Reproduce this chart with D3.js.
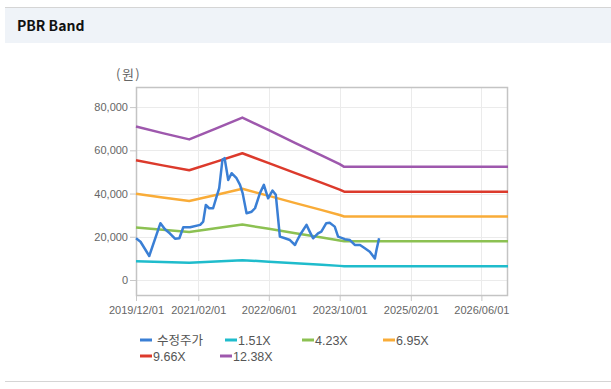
<!DOCTYPE html>
<html>
<head>
<meta charset="utf-8">
<script src="https://cdn.jsdelivr.net/npm/d3@7"></script>
<style>
  body { margin: 0; background: #fff; font-family: "Liberation Sans", Arial, sans-serif; }
  svg { display: block; }
</style>
</head>
<body>
<script>
// Adjusted share price (수정주가)
var priceDates = ["2019-12-01","2020-01-01","2020-03-01","2020-05-17","2020-06-17","2020-07-20","2020-08-25","2020-09-24","2020-10-21","2020-12-07",
  "2021-02-14","2021-03-07","2021-03-25","2021-04-17","2021-05-14","2021-06-07","2021-06-25","2021-07-17","2021-08-01","2021-08-26",
  "2021-09-18","2021-10-22","2021-11-15","2021-12-03","2021-12-30","2022-02-03","2022-02-26","2022-04-01","2022-04-28","2022-05-27",
  "2022-06-26","2022-07-19","2022-08-16","2022-09-20","2022-10-24","2022-11-28","2022-12-08","2023-01-01","2023-02-15","2023-03-09",
  "2023-04-01","2023-05-05","2023-05-28","2023-07-01","2023-07-24","2023-08-28","2023-09-20","2023-11-06","2023-12-10","2024-01-13",
  "2024-02-18","2024-03-22","2024-04-25","2024-05-30","2024-06-10","2024-06-28"];
var priceValues = [19300,17700,11100,26300,23500,21600,19100,19300,24400,24400,
  25500,27000,34700,33200,33200,38600,42500,55600,56400,46300,
  49400,47100,44000,40200,30900,31600,33200,40200,44000,37800,
  41400,39400,20100,19300,18500,16200,17700,20800,25500,22400,
  19300,21600,22400,26300,26500,24700,20100,18900,18500,16200,
  16200,14700,13100,10000,13900,19300];

// Book value per share used for the PBR bands
var bpsDates = ["2019-12-01","2020-06-01","2020-12-01","2021-06-01","2021-12-01","2022-06-01","2022-12-01","2023-06-01","2023-10-01","2023-11-01","2026-12-01"];
var bpsValues = [5740,5490,5255,5660,6070,5600,5120,4650,4330,4230,4230];

var bandNames = ["1.51X","4.23X","6.95X","9.66X","12.38X"];
var bandMultiples = [1.51,4.23,6.95,9.66,12.38];

var xTickDates = ["2019/12/01","2021/02/01","2022/06/01","2023/10/01","2025/02/01","2026/06/01"];
var yTicks = [0,20000,40000,60000,80000];

var legendNames = ["수정주가","1.51X","4.23X","6.95X","9.66X","12.38X"];
var colors = ["#3a7fd5","#1fbccc","#8cc152","#f9ac38","#dc3a2c","#9e58ad"];

var svgWidth = 611, svgHeight = 389;
var plot = { left: 136, right: 508, top: 87, bottom: 296 };

var svg = d3.select("body").append("svg")
  .attr("width", svgWidth)
  .attr("height", svgHeight);

// header
svg.append("rect").attr("x", 5).attr("y", 7).attr("width", 606).attr("height", 36).attr("fill", "#eff3f8");
svg.append("line").attr("x1", 5).attr("x2", 611).attr("y1", 7.5).attr("y2", 7.5).attr("stroke", "#d5d5d5");
svg.append("text")
  .attr("x", 17).attr("y", 31)
  .attr("font-family", "'Noto Sans CJK KR', 'Noto Sans', sans-serif")
  .attr("font-weight", "bold")
  .attr("font-size", 14)
  .attr("fill", "#111")
  .text("PBR Band");
svg.append("line").attr("x1", 5).attr("x2", 611).attr("y1", 381.5).attr("y2", 381.5).attr("stroke", "#d5d5d5");

var parseDash = d3.timeParse("%Y-%m-%d");
var parseSlash = d3.timeParse("%Y/%m/%d");

var x = d3.scaleTime()
  .domain([parseDash("2019-12-01"), parseDash("2026-12-01")])
  .range([plot.left, plot.right]);

var y = d3.scaleLinear()
  .domain([-7400, 89300])
  .range([plot.bottom, plot.top]);

// grid
var grid = svg.append("g");
grid.selectAll(".hg").data(yTicks).enter().append("line")
  .attr("x1", plot.left).attr("x2", plot.right)
  .attr("y1", d => Math.round(y(d)) + 0.5).attr("y2", d => Math.round(y(d)) + 0.5)
  .attr("stroke", "#ebebeb");
grid.selectAll(".vg").data(xTickDates.slice(1)).enter().append("line")
  .attr("x1", d => Math.round(x(parseSlash(d))) + 0.5).attr("x2", d => Math.round(x(parseSlash(d))) + 0.5)
  .attr("y1", plot.top).attr("y2", plot.bottom)
  .attr("stroke", "#ebebeb");

// axes
var leftAxis = d3.axisLeft(y).tickValues(yTicks).tickSize(6).tickSizeOuter(0).tickFormat(d3.format(","));
var bottomAxis = d3.axisBottom(x).tickValues(xTickDates.map(parseSlash)).tickSize(5).tickSizeOuter(0)
  .tickFormat(d3.timeFormat("%Y/%m/%d"));

var gy = svg.append("g").attr("transform", `translate(${plot.left},0)`).call(leftAxis);
var gx = svg.append("g").attr("transform", `translate(0,${plot.bottom})`).call(bottomAxis);
[gx, gy].forEach(function(g) {
  g.select(".domain").remove();
  g.selectAll(".tick line").attr("stroke", "#c8c8c8");
  g.selectAll("text").attr("fill", "#666").attr("font-size", 11)
    .attr("font-family", "'Liberation Sans', Arial, sans-serif");
});
gy.selectAll("text").attr("x", -8);
gx.selectAll("text").attr("y", 10);

// plot frame
svg.append("rect")
  .attr("x", plot.left + 0.5).attr("y", plot.top + 0.5)
  .attr("width", plot.right - plot.left - 1).attr("height", plot.bottom - plot.top - 1)
  .attr("fill", "none").attr("stroke", "#c4c4c4").attr("stroke-width", 1.5);

svg.append("text")
  .attr("x", 116).attr("y", 79)
  .attr("font-family", "'Noto Sans CJK KR', sans-serif")
  .attr("font-size", 13)
  .attr("letter-spacing", 1.5)
  .attr("fill", "#666")
  .text("(원)");

// bands
var bps = bpsDates.map((d, i) => ({ date: parseDash(d), value: bpsValues[i] }));
var line = d3.line().x(d => x(d.date)).y(d => y(d.value));

bandMultiples.forEach(function(m, i) {
  svg.append("path")
    .datum(bps.map(p => ({ date: p.date, value: p.value * m })))
    .attr("d", line)
    .attr("fill", "none")
    .attr("stroke", colors[i + 1])
    .attr("stroke-width", 2.5)
    .attr("stroke-linejoin", "round");
});

// price
var price = priceDates.map((d, i) => ({ date: parseDash(d), value: priceValues[i] }));
svg.append("path")
  .datum(price)
  .attr("d", line)
  .attr("fill", "none")
  .attr("stroke", colors[0])
  .attr("stroke-width", 2.5)
  .attr("stroke-linejoin", "round");

// legend
var legendPos = [[140, 340], [225, 340], [302, 340], [383, 340], [140, 356], [220, 356]];
var legend = svg.append("g");
legendNames.forEach(function(name, i) {
  var p = legendPos[i];
  legend.append("line")
    .attr("x1", p[0]).attr("x2", p[0] + 12)
    .attr("y1", p[1]).attr("y2", p[1])
    .attr("stroke", colors[i]).attr("stroke-width", 3);
  legend.append("text")
    .attr("x", p[0] + (i == 0 ? 17 : 13)).attr("y", p[1] + 4.5)
    .attr("font-family", i == 0 ? "'Noto Sans CJK KR', sans-serif" : "'Liberation Sans', Arial, sans-serif")
    .attr("font-size", 12.5)
    .attr("fill", "#555")
    .text(name);
});
</script>
</body>
</html>
